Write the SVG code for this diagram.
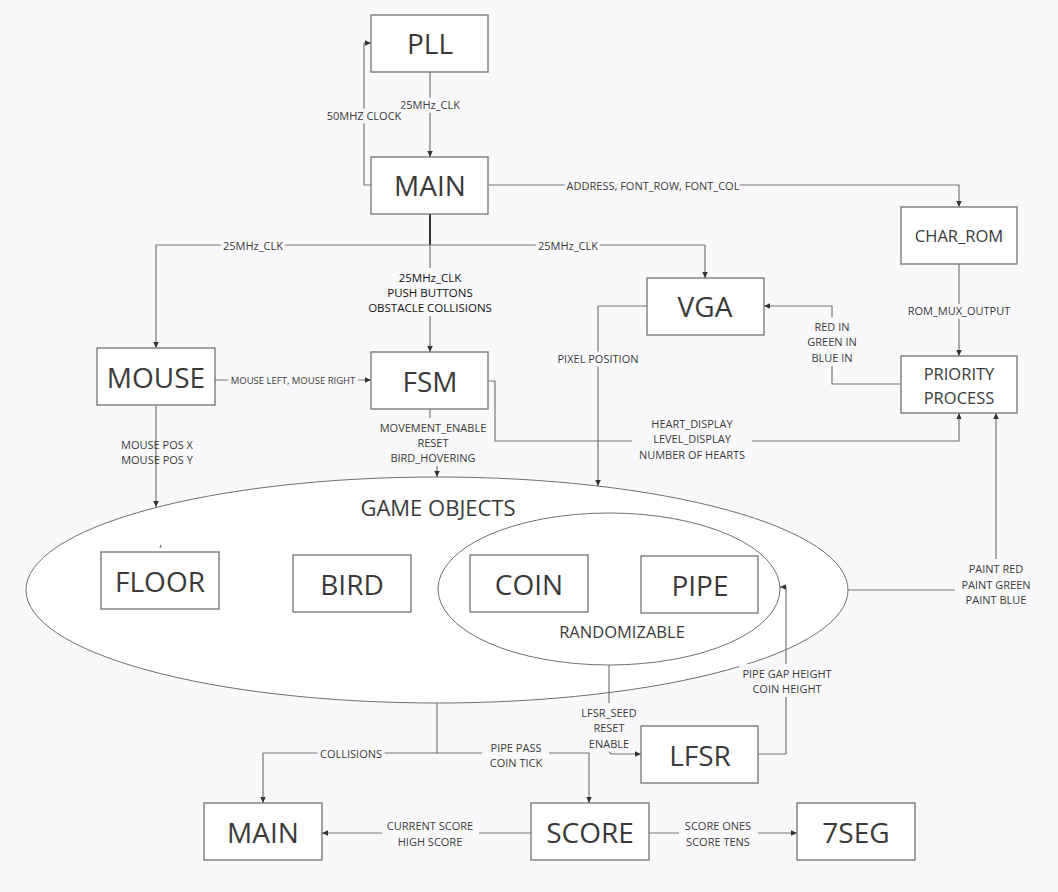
<svg xmlns="http://www.w3.org/2000/svg" width="1058" height="892" viewBox="0 0 1058 892">
<defs>
<style>
.bg{fill:#f9f9fb}
.box{fill:#fff;stroke:#7d7d7d;stroke-width:1.4}
.ell{fill:#fff;stroke:#6f6f6f;stroke-width:1}
.big{font-family:"Open Sans","Liberation Sans",sans-serif;font-size:28px;fill:#3a3a3a;text-anchor:middle;dominant-baseline:central}
.mid{font-family:"Open Sans","Liberation Sans",sans-serif;font-size:16.5px;fill:#3a3a3a;text-anchor:middle;dominant-baseline:central}
.lbl{font-family:"Open Sans","Liberation Sans",sans-serif;font-size:11px;fill:#3a3a3a;text-anchor:middle;dominant-baseline:central;paint-order:stroke;stroke:#f9f9fb;stroke-width:7px;stroke-linejoin:round}
.nohalo{stroke:none}
.dark{fill:#111;font-size:11.5px}
.mask{fill:#f9f9fb}
.wire{fill:none;stroke:#777;stroke-width:1.2;stroke-linejoin:round}
.thick{fill:none;stroke:#333;stroke-width:2}
</style>
<marker id="arr" viewBox="0 0 8 8" refX="7" refY="4" markerWidth="7" markerHeight="7" markerUnits="userSpaceOnUse" orient="auto">
<path d="M0,0.8 L7,4 L0,7.2 Z" fill="#333"/>
</marker>
</defs>
<rect class="bg" x="0" y="0" width="1058" height="892"/>

<g id="game-objects">
<ellipse class="ell" cx="437" cy="590" rx="411" ry="113"/>
<text class="big" x="438" y="507" style="font-size:22px">GAME OBJECTS</text>
</g>
<g id="randomizable">
<ellipse class="ell" cx="609" cy="589" rx="171" ry="76"/>
<text class="mid" x="622" y="631">RANDOMIZABLE</text>
</g>

<g id="connectors">
<path class="wire" d="M430,72 V157" marker-end="url(#arr)"/>
<path class="wire" d="M371,185 H364 V43 H371" marker-end="url(#arr)"/>
<path class="wire" d="M489,185 H959 V207" marker-end="url(#arr)"/>
<path class="thick" d="M430,214 V245"/>
<path class="wire" d="M430,245 H156 V348" marker-end="url(#arr)"/>
<path class="wire" d="M430,245 H705 V278" marker-end="url(#arr)"/>
<path class="wire" d="M430,245 V352" marker-end="url(#arr)"/>
<path class="wire" d="M215,380 H371" marker-end="url(#arr)"/>
<path class="wire" d="M489,381 H495 V441 H959 V413" marker-end="url(#arr)"/>
<path class="wire" d="M959,264 V356" marker-end="url(#arr)"/>
<path class="wire" d="M901,384 H832 V306 H764" marker-end="url(#arr)"/>
<path class="wire" d="M647,306 H598 V486" marker-end="url(#arr)"/>
<path class="wire" d="M156,406 V507" marker-end="url(#arr)"/>
<path class="wire" d="M430,409 V440 H437 V477" marker-end="url(#arr)"/>
<path class="wire" d="M848,590 H996 V413" marker-end="url(#arr)"/>
<path class="wire" d="M609,665 V750 Q609,754 613,754 H641" marker-end="url(#arr)"/>
<path class="wire" d="M758,754 H786 V587 H780" marker-end="url(#arr)"/>
<path class="wire" d="M437,703 V753 H263 V803" marker-end="url(#arr)"/>
<path class="wire" d="M437,753 H589 V803" marker-end="url(#arr)"/>
<path class="wire" d="M531,833 H322" marker-end="url(#arr)"/>
<path class="wire" d="M649,833 H797" marker-end="url(#arr)"/>
<path class="wire" d="M160,548 L161,545"/>

<rect class="mask" x="366" y="268" width="128" height="48"/>
<rect class="mask" x="377" y="418" width="112" height="48"/>
<rect class="mask" x="805" y="317" width="54" height="49"/>
<rect class="mask" x="632" y="414" width="120" height="49"/>
<rect class="mask" x="955" y="559" width="82" height="49"/>
<rect class="mask" x="739" y="664" width="96" height="33"/>
<rect class="mask" x="578" y="703" width="62" height="47"/>
<rect class="mask" x="482" y="739" width="67" height="31"/>
<rect class="mask" x="382" y="817" width="97" height="32"/>
<rect class="mask" x="679" y="817" width="79" height="32"/>

<text class="lbl" x="430" y="104">25MHz_CLK</text>
<text class="lbl" x="364" y="115">50MHZ CLOCK</text>
<text class="lbl" x="653" y="185">ADDRESS, FONT_ROW, FONT_COL</text>
<text class="lbl" x="253" y="245">25MHz_CLK</text>
<text class="lbl" x="568" y="245">25MHz_CLK</text>
<text class="lbl dark" x="430" y="277">25MHz_CLK</text>
<text class="lbl dark" x="430" y="292">PUSH BUTTONS</text>
<text class="lbl dark" x="430" y="307">OBSTACLE COLLISIONS</text>
<text class="lbl" x="293" y="380" style="font-size:9.5px">MOUSE LEFT, MOUSE RIGHT</text>
<text class="lbl" x="433" y="427">MOVEMENT_ENABLE</text>
<text class="lbl" x="433" y="442">RESET</text>
<text class="lbl" x="433" y="457">BIRD_HOVERING</text>
<text class="lbl nohalo" x="157" y="444">MOUSE POS X</text>
<text class="lbl nohalo" x="157" y="459">MOUSE POS Y</text>
<text class="lbl" x="598" y="358">PIXEL POSITION</text>
<text class="lbl" x="832" y="326">RED IN</text>
<text class="lbl" x="832" y="341">GREEN IN</text>
<text class="lbl" x="832" y="357">BLUE IN</text>
<text class="lbl" x="959" y="310">ROM_MUX_OUTPUT</text>
<text class="lbl" x="692" y="423">HEART_DISPLAY</text>
<text class="lbl" x="692" y="438">LEVEL_DISPLAY</text>
<text class="lbl" x="692" y="454">NUMBER OF HEARTS</text>
<text class="lbl" x="996" y="568">PAINT RED</text>
<text class="lbl" x="996" y="584">PAINT GREEN</text>
<text class="lbl" x="996" y="599">PAINT BLUE</text>
<text class="lbl" x="787" y="673">PIPE GAP HEIGHT</text>
<text class="lbl" x="787" y="688">COIN HEIGHT</text>
<text class="lbl" x="609" y="712">LFSR_SEED</text>
<text class="lbl" x="609" y="727">RESET</text>
<text class="lbl" x="609" y="743">ENABLE</text>
<text class="lbl" x="351" y="753">COLLISIONS</text>
<text class="lbl" x="516" y="747">PIPE PASS</text>
<text class="lbl" x="516" y="762">COIN TICK</text>
<text class="lbl" x="430" y="825">CURRENT SCORE</text>
<text class="lbl" x="430" y="841">HIGH SCORE</text>
<text class="lbl" x="718" y="825">SCORE ONES</text>
<text class="lbl" x="718" y="841">SCORE TENS</text>
</g>

<g id="pll"><rect class="box" x="371" y="15" width="117" height="57"/><text class="big" x="430" y="43">PLL</text></g>
<g id="main"><rect class="box" x="371" y="157" width="117" height="57"/><text class="big" x="430" y="185">MAIN</text></g>
<g id="char-rom"><rect class="box" x="901" y="207" width="116" height="57"/><text class="mid" x="959" y="235">CHAR_ROM</text></g>
<g id="vga"><rect class="box" x="647" y="278" width="117" height="57"/><text class="big" x="705" y="306">VGA</text></g>
<g id="mouse"><rect class="box" x="97" y="348" width="118" height="57"/><text class="big" x="156" y="377">MOUSE</text></g>
<g id="fsm"><rect class="box" x="371" y="352" width="117" height="57"/><text class="big" x="430" y="381">FSM</text></g>
<g id="priority-process"><rect class="box" x="901" y="356" width="116" height="57"/><text class="mid" x="959" y="373">PRIORITY</text><text class="mid" x="959" y="397">PROCESS</text></g>
<g id="floor"><rect class="box" x="101" y="552" width="118" height="57"/><text class="big" x="160" y="581">FLOOR</text></g>
<g id="bird"><rect class="box" x="293" y="555" width="118" height="57"/><text class="big" x="352" y="584">BIRD</text></g>
<g id="coin"><rect class="box" x="470" y="555" width="118" height="57"/><text class="big" x="529" y="584">COIN</text></g>
<g id="pipe"><rect class="box" x="641" y="556" width="117" height="57"/><text class="big" x="700" y="585">PIPE</text></g>
<g id="lfsr"><rect class="box" x="641" y="726" width="117" height="57"/><text class="big" x="700" y="755">LFSR</text></g>
<g id="main-2"><rect class="box" x="204" y="803" width="118" height="57"/><text class="big" x="263" y="832">MAIN</text></g>
<g id="score"><rect class="box" x="531" y="803" width="118" height="57"/><text class="big" x="590" y="832">SCORE</text></g>
<g id="seven-seg"><rect class="box" x="797" y="803" width="118" height="57"/><text class="big" x="856" y="832">7SEG</text></g>
</svg>
